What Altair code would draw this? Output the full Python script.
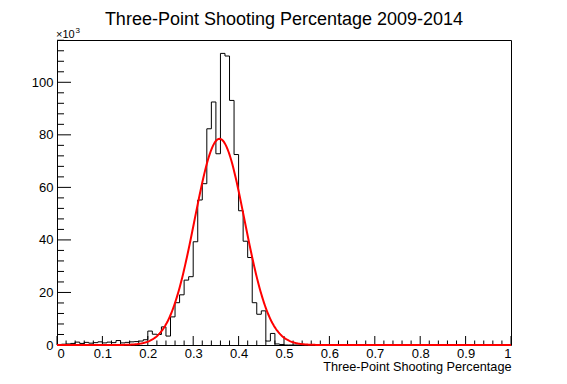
import altair as alt
import numpy as np
import pandas as pd

# Histogram counts in thousands, 100 bins of width 0.01 from 0 to 1
counts = [
    0.2, 0.3, 0.4, 0.6, 1.1, 0.6, 1.0, 0.7, 0.9, 1.2,
    0.8, 1.1, 0.9, 1.7, 0.8, 1.0, 1.2, 1.3, 1.5, 2.0,
    5.3, 4.1, 4.0, 6.9, 3.4, 10.7, 16.1, 19.1, 24.7, 26.0,
    39.3, 55.2, 61.4, 82.3, 92.5, 72.8, 111.0, 110.0, 93.1, 72.5,
    51.1, 39.5, 33.3, 16.1, 11.7, 13.0, 1.5, 4.4, 0.4, 0.2,
] + [0.0] * 50
bin_width = 0.01

# Gaussian fit parameters (constant in thousands, mean, sigma)
fit_const = 78.5
fit_mean = 0.358
fit_sigma = 0.055

x_major = [0, 0.1, 0.2, 0.3, 0.4, 0.5, 0.6, 0.7, 0.8, 0.9, 1]
x_minor = [round(0.02 * i, 2) for i in range(51) if i % 5 != 0]
y_major = [0, 20, 40, 60, 80, 100]
y_minor = [4 * i for i in range(1, 30) if (4 * i) % 20 != 0]

title_text = "Three-Point Shooting Percentage 2009-2014"
x_title = "Three-Point Shooting Percentage"

W, H = 454, 305
FONT = "Liberation Sans"

edges = [round(i * bin_width, 2) for i in range(len(counts))] + [1.0]
hist_df = pd.DataFrame({"x": edges, "y": counts + [counts[-1]]})
fit_df = pd.DataFrame({"x": np.linspace(0, 1, 501)})

xs = alt.Scale(domain=[0, 1], nice=False, zero=False)
ys = alt.Scale(domain=[0, 116.1], nice=False)

x_axis = alt.Axis(
    values=x_major, format="~g", domain=False, ticks=False, grid=False,
    labelFont=FONT, labelFontSize=13, labelColor="black", labelPadding=2,
    title=x_title, titleFont=FONT, titleFontSize=12.7, titleFontWeight="normal",
    titleColor="black", titleAnchor="end", titleAlign="right", titlePadding=0)
y_axis = alt.Axis(
    values=y_major, domain=False, ticks=False, grid=False,
    labelFont=FONT, labelFontSize=13, labelColor="black", labelPadding=4,
    title=None)


def X(field):
    return alt.X(field, scale=xs, axis=x_axis, title=x_title)


def Y(field):
    return alt.Y(field, scale=ys, axis=y_axis, title=None)


hist = alt.Chart(hist_df).mark_line(
    interpolate="step-after", color="black", strokeWidth=1
).encode(x=X("x:Q"), y=Y("y:Q"))

fit = alt.Chart(fit_df).mark_line(color="#ff0000", strokeWidth=2).transform_calculate(
    f=f"{fit_const} * exp(-0.5 * pow((datum.x - {fit_mean}) / {fit_sigma}, 2))"
).encode(x=X("x:Q"), y=Y("f:Q"))

ymaj = alt.Chart(pd.DataFrame({"v": y_major})).mark_rule(color="black", strokeWidth=1).encode(
    y=Y("v:Q"), x=alt.value(0), x2=alt.value(14))
ymin = alt.Chart(pd.DataFrame({"v": y_minor})).mark_rule(color="black", strokeWidth=1).encode(
    y=Y("v:Q"), x=alt.value(0), x2=alt.value(7))
xmaj = alt.Chart(pd.DataFrame({"v": x_major})).mark_rule(color="black", strokeWidth=1).encode(
    x=X("v:Q"), y=alt.value(H), y2=alt.value(H - 9))
xmin = alt.Chart(pd.DataFrame({"v": x_minor})).mark_rule(color="black", strokeWidth=1).encode(
    x=X("v:Q"), y=alt.value(H), y2=alt.value(H - 4.5))

exp_txt = alt.Chart(pd.DataFrame({"t": ["×10"]})).mark_text(
    font=FONT, fontSize=11, align="left", baseline="alphabetic", color="black"
).encode(x=alt.value(-1), y=alt.value(-2), text="t:N")
exp_sup = alt.Chart(pd.DataFrame({"t": ["3"]})).mark_text(
    font=FONT, fontSize=8, align="left", baseline="alphabetic", color="black"
).encode(x=alt.value(18.5), y=alt.value(-7), text="t:N")

title = alt.Chart(pd.DataFrame({"t": [title_text]})).mark_text(
    font=FONT, fontSize=18, align="center", baseline="alphabetic", color="black"
).encode(x=alt.value(W / 2), y=alt.value(-15.5), text="t:N")

chart = alt.layer(hist, ymaj, ymin, xmaj, xmin, fit, exp_txt, exp_sup, title).properties(
    width=W, height=H,
    autosize=alt.AutoSizeParams(type="none"),
    padding={"left": 49, "top": 32, "right": 48, "bottom": 31},
).configure(background="white").configure_view(stroke="black", strokeWidth=1)

chart.save("out.html", embed_options={"renderer": "svg", "actions": False})
